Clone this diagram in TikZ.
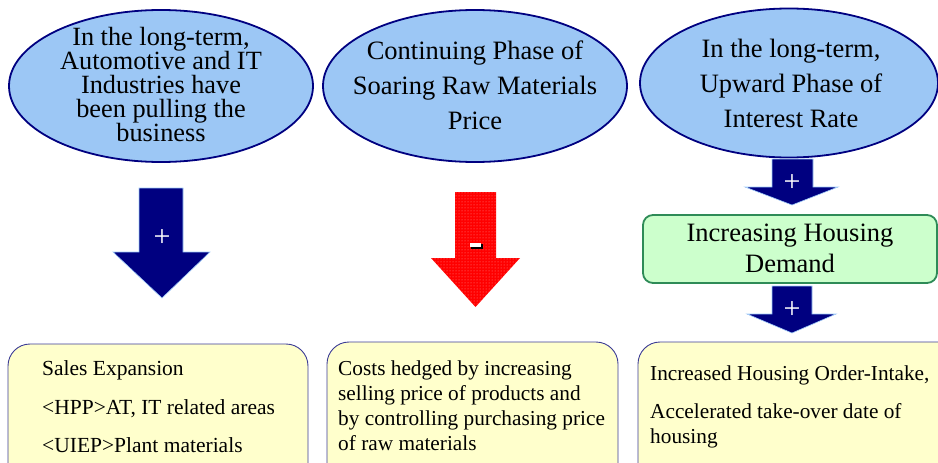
\documentclass[tikz,border=0pt]{standalone}
\usepackage{fontspec}
\setmainfont{Liberation Serif}
\usetikzlibrary{shapes.geometric,patterns}

\definecolor{navyfill}{RGB}{0,0,128}
\definecolor{skyfill}{RGB}{156,199,245}
\definecolor{edgeblue}{RGB}{160,205,250}
\definecolor{notefill}{RGB}{255,255,204}
\definecolor{noteedge}{RGB}{60,60,150}
\definecolor{mintfill}{RGB}{204,255,204}
\definecolor{mintedge}{RGB}{46,139,87}
\definecolor{alarmred}{RGB}{255,0,0}

\tikzset{
  cause/.style={ellipse, draw=navyfill, line width=1.8pt, fill=skyfill, inner sep=0pt},
  bigtext/.style={font=\fontsize{26.3}{24}\selectfont, align=center, inner sep=0pt, anchor=north},
  notebox/.style={draw=noteedge, line width=0.9pt, fill=notefill, rounded corners=22pt},
  notetext/.style={font=\fontsize{21.3}{25}\selectfont, align=left, inner sep=0pt, anchor=north west},
  pushup/.style={fill=navyfill, draw=edgeblue, line width=0.6pt},
  pushdown/.style={fill=alarmred},
  signtext/.style={text=white, font=\fontsize{30}{30}\selectfont, inner sep=0pt}
}

\begin{document}
\begin{tikzpicture}[x=1pt,y=-1pt]
\useasboundingbox (0,0) rectangle (938,463);
\clip (0,0) rectangle (938,463);

% driving factors
\node[cause, minimum width=304pt, minimum height=152pt] (auto) at (161,86) {};
\node[bigtext] (autot) at (161,27.5)
  {In the long-term,\\Automotive and IT\\Industries have\\been pulling the\\business};

\node[cause, minimum width=304pt, minimum height=152pt] (raw) at (475,86) {};
\node[bigtext, font=\fontsize{26.5}{35}\selectfont] (rawt) at (475,40.5)
  {Continuing Phase of\\Soaring Raw Materials\\Price};

\node[cause, minimum width=298pt, minimum height=149pt] (rate) at (789,83) {};
\node[bigtext, font=\fontsize{26.5}{35}\selectfont] (ratet) at (791,39.2)
  {In the long-term,\\Upward Phase of\\Interest Rate};

% intermediate effect
\node[draw=mintedge, line width=1.8pt, fill=mintfill, rounded corners=10pt,
      minimum width=294pt, minimum height=68pt] (demand) at (790,249) {};
\node[bigtext, font=\fontsize{26.5}{31}\selectfont] (demandt) at (790,224.2)
  {Increasing Housing\\Demand};

% results
\draw[notebox] (8,344) rectangle (308,490);
\node[notetext, font=\fontsize{21.5}{38.5}\selectfont] (sales) at (42,360.7)
  {Sales Expansion\\<HPP>AT, IT related areas\\<UIEP>Plant materials};

\draw[notebox] (327,342) rectangle (618,490);
\node[notetext] (costs) at (338,360.7)
  {Costs hedged by increasing\\selling price of products and\\by controlling purchasing price\\of raw materials};

\draw[notebox] (638,342) rectangle (960,490);
\node[notetext] (orders) at (650,365.7)
  {Increased Housing Order-Intake,\\[13pt]Accelerated take-over date of\\housing};

% block arrows
\draw[pushup] (139,188) -- (183,188) -- (183,252) -- (210,252) -- (162,298)
  -- (113,252) -- (139,252) -- cycle;
\node[signtext] (plusa) at (162,238) {+};

\fill[pushdown] (455,192) -- (496,192) -- (496,258) -- (520,258) -- (475.5,307)
  -- (431,258) -- (455,258) -- cycle;
\fill[pattern=dots, pattern color=white!55!alarmred] (455,192) -- (496,192) -- (496,258)
  -- (520,258) -- (475.5,307) -- (431,258) -- (455,258) -- cycle;
\fill[black] (470.5,243.5) rectangle (482.5,249);
\node[fill=white, minimum width=11pt, minimum height=4.5pt, inner sep=0pt] (minus) at (475,245) {};

\draw[pushup] (772,159) -- (813,159) -- (813,187) -- (838,187) -- (792,205)
  -- (745,187) -- (772,187) -- cycle;
\node[signtext] (plusb) at (792,183) {+};

\draw[pushup] (772,286) -- (812,286) -- (812,314) -- (836,314) -- (792,333)
  -- (747,314) -- (772,314) -- cycle;
\node[signtext] (plusc) at (792,310) {+};
\end{tikzpicture}
\end{document}
